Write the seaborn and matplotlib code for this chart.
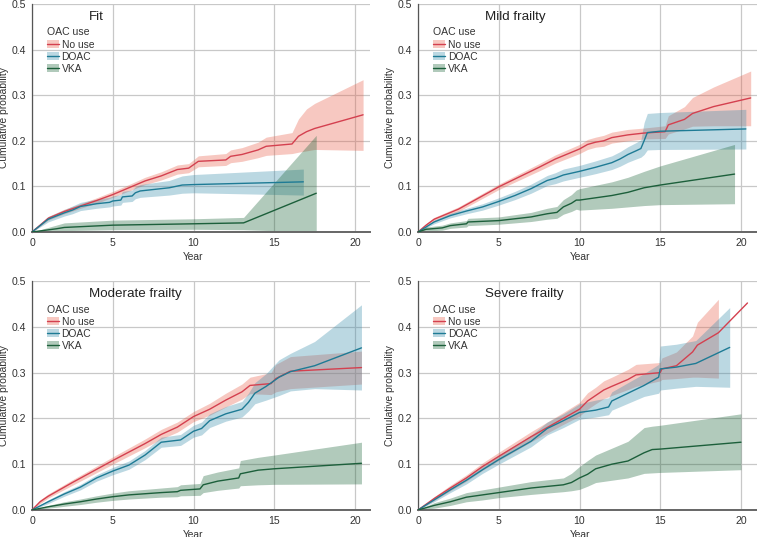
import numpy as np
import pandas as pd
import matplotlib
matplotlib.use("Agg")
import matplotlib.pyplot as plt
import seaborn as sns
from matplotlib.patches import Patch
from matplotlib.lines import Line2D

nan = np.nan
groups = ["No use", "DOAC", "VKA"]
panels = ["Fit", "Mild frailty", "Moderate frailty", "Severe frailty"]
x_ticks = [0, 5, 10, 15, 20]
y_ticks = [0.0, 0.1, 0.2, 0.3, 0.4, 0.5]

# ---------------- Fit ----------------
fit_nouse_t = [0, 1, 2, 3, 4, 5, 6, 7, 8, 9, 9.7, 10.3, 12, 12.3, 13, 14, 14.5, 16.1, 16.5, 17, 17.5, 20.5]
fit_nouse_est = [0, 0.03, 0.045, 0.057, 0.069, 0.082, 0.097, 0.112, 0.123, 0.137, 0.140, 0.155, 0.158, 0.166, 0.170, 0.180, 0.188, 0.193, 0.210, 0.220, 0.227, 0.257]
fit_nouse_lo = [0, 0.026, 0.040, 0.052, 0.063, 0.076, 0.090, 0.104, 0.114, 0.127, 0.130, 0.143, 0.146, 0.152, 0.155, 0.163, 0.168, 0.172, 0.175, 0.178, 0.181, 0.179]
fit_nouse_hi = [0, 0.034, 0.050, 0.062, 0.075, 0.089, 0.104, 0.120, 0.132, 0.147, 0.150, 0.167, 0.172, 0.180, 0.185, 0.197, 0.208, 0.218, 0.248, 0.270, 0.282, 0.334]

fit_doac_t = [0, 1, 2, 2.5, 3, 4, 4.8, 5, 5.5, 5.6, 6.2, 6.4, 6.7, 8.5, 9.3, 10, 16.8]
fit_doac_est = [0, 0.028, 0.042, 0.048, 0.056, 0.062, 0.065, 0.068, 0.070, 0.077, 0.079, 0.086, 0.090, 0.097, 0.103, 0.104, 0.110]
fit_doac_lo = [0, 0.022, 0.035, 0.040, 0.047, 0.052, 0.055, 0.057, 0.059, 0.065, 0.067, 0.073, 0.076, 0.081, 0.085, 0.086, 0.081]
fit_doac_hi = [0, 0.034, 0.049, 0.057, 0.065, 0.072, 0.076, 0.079, 0.082, 0.089, 0.092, 0.099, 0.104, 0.113, 0.123, 0.126, 0.138]

fit_vka_t = [0, 1.5, 2, 5, 10, 13.1, 17.6]
fit_vka_est = [0, 0.007, 0.010, 0.015, 0.018, 0.020, 0.085]
fit_vka_lo = [0, 0.002, 0.003, 0.005, 0.006, 0.005, 0.0]
fit_vka_hi = [0, 0.015, 0.020, 0.026, 0.029, 0.032, 0.212]

# ---------------- Mild frailty ----------------
mild_nouse_t = [0, 0.5, 1, 2.5, 5, 7.5, 8.5, 10, 10.5, 11, 11.5, 12, 13, 14, 15.3, 15.5, 16.5, 17, 18.3, 20.6]
mild_nouse_est = [0, 0.015, 0.028, 0.05, 0.099, 0.142, 0.160, 0.182, 0.192, 0.197, 0.200, 0.207, 0.213, 0.217, 0.220, 0.235, 0.247, 0.260, 0.275, 0.294]
mild_nouse_lo = [0, 0.012, 0.024, 0.045, 0.093, 0.134, 0.151, 0.172, 0.181, 0.186, 0.188, 0.195, 0.200, 0.204, 0.205, 0.215, 0.226, 0.232, 0.233, 0.233]
mild_nouse_hi = [0, 0.018, 0.032, 0.055, 0.105, 0.150, 0.169, 0.192, 0.203, 0.208, 0.212, 0.219, 0.225, 0.228, 0.233, 0.255, 0.275, 0.295, 0.318, 0.353]

mild_doac_t = [0, 1, 2, 3, 4, 5, 6, 7, 8, 8.5, 9, 10, 11, 12, 12.5, 13, 13.5, 13.8, 14.0, 14.2, 15, 20.3]
mild_doac_est = [0, 0.022, 0.036, 0.046, 0.055, 0.067, 0.080, 0.095, 0.113, 0.118, 0.125, 0.133, 0.142, 0.152, 0.160, 0.170, 0.178, 0.183, 0.200, 0.218, 0.221, 0.226]
mild_doac_lo = [0, 0.018, 0.031, 0.040, 0.048, 0.059, 0.071, 0.085, 0.102, 0.106, 0.112, 0.120, 0.128, 0.137, 0.144, 0.153, 0.160, 0.164, 0.170, 0.180, 0.181, 0.182]
mild_doac_hi = [0, 0.026, 0.041, 0.052, 0.062, 0.075, 0.089, 0.105, 0.124, 0.130, 0.138, 0.146, 0.156, 0.167, 0.176, 0.187, 0.196, 0.202, 0.240, 0.260, 0.262, 0.269]

mild_vka_t = [0, 0.5, 1.5, 2, 3, 3.1, 5, 7, 8, 8.6, 9, 9.5, 9.8, 10, 12, 13, 14, 15, 19.6]
mild_vka_est = [0, 0.006, 0.009, 0.014, 0.018, 0.022, 0.025, 0.033, 0.040, 0.043, 0.055, 0.063, 0.070, 0.070, 0.080, 0.087, 0.097, 0.103, 0.127]
mild_vka_lo = [0, 0.002, 0.004, 0.008, 0.011, 0.014, 0.017, 0.023, 0.028, 0.030, 0.039, 0.045, 0.050, 0.048, 0.052, 0.055, 0.058, 0.060, 0.062]
mild_vka_hi = [0, 0.011, 0.015, 0.020, 0.025, 0.030, 0.033, 0.043, 0.052, 0.056, 0.071, 0.082, 0.092, 0.095, 0.110, 0.120, 0.133, 0.145, 0.192]

# ---------------- Moderate frailty ----------------
mod_nouse_t = [0, 0.5, 1, 2.5, 5, 7, 8, 9, 10, 11, 12, 13, 13.5, 14.8, 15.1, 16, 20.4]
mod_nouse_est = [0, 0.018, 0.03, 0.06, 0.108, 0.145, 0.165, 0.181, 0.204, 0.220, 0.240, 0.258, 0.272, 0.276, 0.287, 0.303, 0.311]
mod_nouse_lo = [0, 0.014, 0.026, 0.054, 0.100, 0.136, 0.155, 0.170, 0.193, 0.207, 0.225, 0.242, 0.254, 0.252, 0.258, 0.265, 0.275]
mod_nouse_hi = [0, 0.022, 0.035, 0.066, 0.116, 0.155, 0.176, 0.192, 0.215, 0.233, 0.255, 0.275, 0.290, 0.300, 0.318, 0.335, 0.347]

mod_doac_t = [0, 1, 2, 3, 4, 5, 6, 7, 8, 9.2, 10, 10.5, 11, 12, 13, 13.4, 13.8, 14.5, 15.3, 16, 17.5, 20.4]
mod_doac_est = [0, 0.018, 0.035, 0.050, 0.070, 0.085, 0.098, 0.120, 0.148, 0.153, 0.172, 0.178, 0.195, 0.210, 0.220, 0.235, 0.255, 0.270, 0.290, 0.302, 0.315, 0.354]
mod_doac_lo = [0, 0.014, 0.030, 0.044, 0.063, 0.077, 0.089, 0.110, 0.137, 0.141, 0.159, 0.164, 0.180, 0.194, 0.203, 0.216, 0.232, 0.240, 0.250, 0.260, 0.265, 0.262]
mod_doac_hi = [0, 0.022, 0.040, 0.056, 0.077, 0.093, 0.107, 0.130, 0.159, 0.165, 0.185, 0.192, 0.210, 0.226, 0.237, 0.255, 0.278, 0.298, 0.328, 0.342, 0.368, 0.448]

mod_vka_t = [0, 1, 2, 3, 4, 5, 6, 8, 9, 9.2, 10.4, 10.6, 11.5, 12.8, 12.9, 14, 15, 20.4]
mod_vka_est = [0, 0.007, 0.013, 0.018, 0.024, 0.029, 0.033, 0.038, 0.040, 0.043, 0.046, 0.055, 0.063, 0.070, 0.079, 0.087, 0.090, 0.102]
mod_vka_lo = [0, 0.004, 0.008, 0.012, 0.017, 0.021, 0.024, 0.028, 0.029, 0.031, 0.032, 0.038, 0.043, 0.048, 0.053, 0.055, 0.056, 0.057]
mod_vka_hi = [0, 0.010, 0.018, 0.024, 0.031, 0.037, 0.042, 0.048, 0.051, 0.055, 0.058, 0.075, 0.083, 0.092, 0.108, 0.115, 0.120, 0.148]

# ---------------- Severe frailty ----------------
sev_nouse_t = [0, 1, 2, 3, 4, 5, 7, 8, 9, 10, 10.5, 11, 11.5, 12, 13, 13.5, 15, 15.1, 16, 17, 17.3, 18.6, 20.4]
sev_nouse_est = [0, 0.025, 0.048, 0.070, 0.095, 0.117, 0.160, 0.180, 0.200, 0.220, 0.238, 0.250, 0.262, 0.270, 0.285, 0.295, 0.300, 0.308, 0.315, 0.345, 0.360, 0.387, 0.452]
sev_nouse_lo = [0, 0.021, 0.042, 0.063, 0.087, 0.108, 0.149, 0.168, 0.187, 0.205, 0.220, 0.232, 0.243, 0.250, 0.263, 0.270, 0.282, 0.285, 0.287, 0.290, 0.290, 0.288, nan]
sev_nouse_hi = [0, 0.029, 0.054, 0.077, 0.103, 0.126, 0.171, 0.192, 0.213, 0.235, 0.256, 0.268, 0.282, 0.290, 0.307, 0.318, 0.322, 0.332, 0.345, 0.380, 0.410, 0.460, nan]

sev_doac_t = [0, 1, 2, 3, 4, 5, 7, 8, 9, 10, 11, 11.8, 12, 13, 14, 14.9, 15, 16, 17.2, 19.3]
sev_doac_est = [0, 0.022, 0.044, 0.065, 0.088, 0.110, 0.150, 0.178, 0.195, 0.213, 0.218, 0.225, 0.238, 0.255, 0.272, 0.290, 0.308, 0.312, 0.320, 0.355]
sev_doac_lo = [0, 0.018, 0.038, 0.057, 0.080, 0.100, 0.138, 0.164, 0.180, 0.198, 0.203, 0.208, 0.218, 0.233, 0.248, 0.255, 0.262, 0.266, 0.270, 0.268]
sev_doac_hi = [0, 0.026, 0.050, 0.073, 0.097, 0.120, 0.163, 0.192, 0.210, 0.232, 0.240, 0.245, 0.258, 0.278, 0.298, 0.318, 0.358, 0.362, 0.370, 0.442]

sev_vka_t = [0, 1, 2, 3, 4, 5, 7, 9, 9.5, 10, 10.5, 11, 12, 13, 14, 14.5, 15, 20]
sev_vka_est = [0, 0.010, 0.018, 0.028, 0.033, 0.038, 0.048, 0.055, 0.060, 0.070, 0.078, 0.090, 0.100, 0.107, 0.125, 0.132, 0.133, 0.148]
sev_vka_lo = [0, 0.004, 0.010, 0.018, 0.022, 0.027, 0.034, 0.040, 0.042, 0.045, 0.052, 0.060, 0.065, 0.070, 0.080, 0.081, 0.082, 0.088]
sev_vka_hi = [0, 0.016, 0.026, 0.038, 0.044, 0.050, 0.062, 0.070, 0.080, 0.095, 0.108, 0.120, 0.135, 0.150, 0.180, 0.183, 0.185, 0.210]

series = {
    "Fit": [(fit_nouse_t, fit_nouse_est, fit_nouse_lo, fit_nouse_hi),
            (fit_doac_t, fit_doac_est, fit_doac_lo, fit_doac_hi),
            (fit_vka_t, fit_vka_est, fit_vka_lo, fit_vka_hi)],
    "Mild frailty": [(mild_nouse_t, mild_nouse_est, mild_nouse_lo, mild_nouse_hi),
                     (mild_doac_t, mild_doac_est, mild_doac_lo, mild_doac_hi),
                     (mild_vka_t, mild_vka_est, mild_vka_lo, mild_vka_hi)],
    "Moderate frailty": [(mod_nouse_t, mod_nouse_est, mod_nouse_lo, mod_nouse_hi),
                         (mod_doac_t, mod_doac_est, mod_doac_lo, mod_doac_hi),
                         (mod_vka_t, mod_vka_est, mod_vka_lo, mod_vka_hi)],
    "Severe frailty": [(sev_nouse_t, sev_nouse_est, sev_nouse_lo, sev_nouse_hi),
                       (sev_doac_t, sev_doac_est, sev_doac_lo, sev_doac_hi),
                       (sev_vka_t, sev_vka_est, sev_vka_lo, sev_vka_hi)],
}

rows = []
for p in panels:
    for g, (t, e, lo, hi) in zip(groups, series[p]):
        for i in range(len(t)):
            rows.append(dict(panel=p, group=g, order=i, year=t[i], est=e[i], lo=lo[i], hi=hi[i]))
df = pd.DataFrame(rows)

line_colors = {"No use": "#d4404f", "DOAC": "#1e7b95", "VKA": "#1c5f3b"}
fill_colors = {"No use": "#e8604a", "DOAC": "#3a8dab", "VKA": "#1b6438"}
fill_alpha = 0.34

sns.set_theme(style="white")
plt.rcParams["font.family"] = ["Liberation Sans", "DejaVu Sans"]

fig = plt.figure(figsize=(7.57, 5.37), dpi=100)
W, H = 757.0, 537.0
boxes = {
    "Fit": (32, 4, 370, 232),
    "Mild frailty": (418, 4, 757, 232),
    "Moderate frailty": (32, 281, 370, 510),
    "Severe frailty": (418, 281, 757, 510),
}
title_x = {"Fit": 0.169, "Mild frailty": 0.198, "Moderate frailty": 0.169, "Severe frailty": 0.198}

for p in panels:
    l, t, r, b = boxes[p]
    ax = fig.add_axes([l / W, 1 - b / H, (r - l) / W, (b - t) / H])
    sub = df[df.panel == p]
    for g in groups:
        s = sub[sub.group == g].sort_values("order")
        ax.fill_between(s.year, s.lo, s.hi, color=fill_colors[g], alpha=fill_alpha,
                        linewidth=0, zorder=2)
    sns.lineplot(data=sub, x="year", y="est", hue="group", hue_order=groups,
                 palette=line_colors, units="group", estimator=None, sort=False,
                 linewidth=1.0, ax=ax, legend=False, zorder=3)
    xmax = (r - l) / 16.15
    ax.set_xlim(0, xmax)
    ax.set_ylim(0, 0.5)
    ax.set_xticks(x_ticks)
    ax.set_yticks(y_ticks)
    ax.set_xticklabels([str(v) for v in x_ticks])
    ax.set_yticklabels([f"{v:.1f}" for v in y_ticks])
    ax.grid(True, color="#c8c8c8", linewidth=0.9, zorder=0)
    ax.set_axisbelow(True)
    for sp in ["top", "right"]:
        ax.spines[sp].set_visible(False)
    ax.spines["left"].set_color("#555555")
    ax.spines["left"].set_linewidth(0.9)
    ax.spines["bottom"].set_color("#666666")
    ax.spines["bottom"].set_linewidth(1.4)
    ax.tick_params(axis="both", which="major", labelsize=7.6, colors="#444444",
                   length=2.5, width=0.7, pad=1.5, labelcolor="#333333")
    ax.set_xlabel("Year", fontsize=7.4, color="#333333")
    ax.set_ylabel("Cumulative probability", fontsize=7.4, color="#333333")
    ax.xaxis.set_label_coords(0.477, -19.5 / (b - t))
    ax.yaxis.set_label_coords(-23.0 / (r - l), 0.5)
    ax.set_facecolor("white")
    ax.text(title_x[p], 0.945, p, transform=ax.transAxes, fontsize=9.6,
            color="#222222", ha="left", va="center")
    handles = [(Patch(facecolor=fill_colors[g], alpha=fill_alpha, linewidth=0),
                Line2D([], [], color=line_colors[g], linewidth=1.0)) for g in groups]
    leg = ax.legend(handles, groups, title="OAC use", loc="upper left",
                    bbox_to_anchor=(0.045, 0.897), frameon=False, fontsize=7.4,
                    title_fontsize=7.6, borderpad=0, borderaxespad=0,
                    handlelength=1.1, handleheight=0.9, handletextpad=0.3,
                    labelspacing=0.2, alignment="left")
    for txt in leg.get_texts():
        txt.set_color("#333333")
    leg.get_title().set_color("#333333")

fig.savefig("out.png", dpi=100, facecolor="white")
